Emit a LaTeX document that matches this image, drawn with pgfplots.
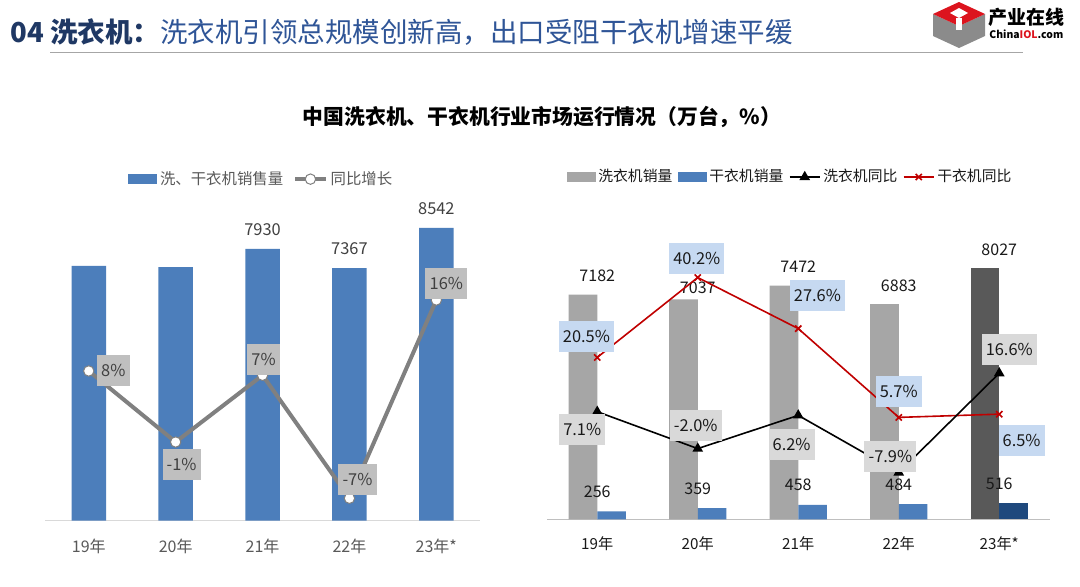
\documentclass[border=0pt]{standalone}
\usepackage{fontspec}
\setmainfont{Noto Sans CJK SC}
\usepackage{pgfplots}
\usepackage{pgfplotstable}
\pgfplotsset{compat=1.18}

\definecolor{navy}{RGB}{31,56,100}
\definecolor{titleblue}{RGB}{47,85,151}
\definecolor{barblue}{RGB}{76,126,187}
\definecolor{darkblue}{RGB}{31,73,125}
\definecolor{washgray}{RGB}{166,166,166}
\definecolor{washdark}{RGB}{89,89,89}
\definecolor{linegray}{RGB}{128,128,128}
\definecolor{boxgray}{RGB}{191,191,191}
\definecolor{boxlight}{RGB}{217,217,217}
\definecolor{boxblue}{RGB}{198,217,241}
\definecolor{txt}{RGB}{64,64,64}
\definecolor{ticktxt}{RGB}{89,89,89}
\definecolor{axisgray}{RGB}{217,217,217}
\definecolor{dryred}{RGB}{192,0,0}
\definecolor{logored}{RGB}{220,20,30}

% left chart: washer + dryer total, yoy (dx, dy = label offset in pt)
\pgfplotstableread{
x y lab dx dy
0 7.7 8 12.25 0
1 -0.56 -1 3 -11.25
2 7.2 7 0.5 8
3 -7.1 -7 4 9.25
4 15.95 16 5 8.35
}\totalyoy

% right chart
\pgfplotstableread{
x y dy
0 7182 9.5
1 7037 5.8
2 7472 9.5
3 6883 9.2
}\washbars
\pgfplotstableread{
x y dy
0 256 9.85
1 359 9.85
2 458 9.85
3 484 9.85
}\drybars
\pgfplotstableread{
x y lab dx dy
0 7.1 7.1 -7.5 -8.65
1 -2.0 -2.0 -1 11.75
2 6.2 6.2 -3.3 -14.5
3 -7.9 -7.9 -4.2 7.9
4 16.6 16.6 5 11.85
}\washyoy
\pgfplotstableread{
x y lab dx dy
0 20.5 20.5 -5.4 10.65
1 40.2 40.2 -0.5 9.5
2 27.6 27.6 9.6 16.65
3 5.7 5.7 0 13.15
4 6.5 6.5 11.2 -13.35
}\dryyoy

\pgfplotsset{
  base/.style={
    scale only axis, anchor=south west, clip=false,
    xmin=-0.5, xmax=4.5, ymin=0,
    axis x line*=bottom, axis y line=none,
    x axis line style={draw=axisgray, line width=0.75pt},
    xtick={0,...,4}, xticklabels={19年,20年,21年,22年,23年*},
    xtick style={draw=none}, major tick length=0pt,
  },
  rectlegend/.style={legend image code/.code={\fill[##1] (0pt,-2.5pt) rectangle (14.5pt,2.5pt);}},
  linelegend/.style={legend image code/.code={\draw[##1, mark repeat=2, mark phase=2]
    plot coordinates {(0pt,0pt) (7.6pt,0pt) (15.2pt,0pt)};}},
  barlbl/.style={
    nodes near coords, point meta=explicit symbolic,
    visualization depends on={\thisrow{dy}\as\ly},
    every node near coord/.append style={anchor=center, yshift=\ly pt,
      text=#1, font=\fontsize{8}{9}\selectfont, inner sep=0pt},
  },
  pctlbl/.style 2 args={
    draw=none, nodes near coords={\pgfplotspointmeta\%}, point meta=explicit symbolic,
    visualization depends on={\thisrow{dx}\as\lx},
    visualization depends on={\thisrow{dy}\as\ly},
    every node near coord/.append style={anchor=center, xshift=\lx pt, yshift=\ly pt,
      fill=#1, text=#2, inner xsep=2.1pt, inner ysep=0pt, minimum height=15.5pt,
      font=\fontsize{8.2}{9}\selectfont},
  },
}

\begin{document}
% coordinates are reference pixels: (x, 586 - y); axes placed in pt
\begin{tikzpicture}[x=0.5pt, y=0.5pt]
\useasboundingbox (0,0) rectangle (1080,586);
\fill[white] (0,0) rectangle (1080,586);

% page title
\node[anchor=west, inner sep=0pt, font=\fontsize{13.75}{15}\selectfont] at (10,586-32)
  {\textcolor{navy}{\bfseries 04 洗衣机：}\textcolor{titleblue}{洗衣机引领总规模创新高，出口受阻干衣机增速平缓}};
\draw[washgray, line width=0.5pt] (50,586-52) -- (1023,586-52);

% logo
\fill[washdark!70] (933,586-14) -- (959,586-26) -- (985,586-14) -- (985,586-36) -- (959,586-48) -- (933,586-36) -- cycle;
\fill[logored] (933,586-14) -- (959,586-2) -- (985,586-14) -- (959,586-26) -- cycle;
\fill[white] (950,586-13) -- (959,586-8) -- (968,586-13) -- (959,586-18) -- cycle;
\fill[white] (956,586-18) rectangle (962,586-30);
\node[anchor=west, inner sep=0pt, font=\fontsize{9.5}{10}\selectfont\bfseries] at (988,586-17) {产业在线};
\node[anchor=west, inner sep=0pt, font=\fontsize{5.2}{6}\selectfont\bfseries] at (989,586-34) {China\textcolor{logored}{IOL}.com};

% chart title
\node[font=\fontsize{10.4}{12}\selectfont\bfseries] at (542,586-117) {中国洗衣机、干衣机行业市场运行情况（万台，\%）};

% ---------------- left chart ----------------
\begin{axis}[base, at={(22.65pt,32.65pt)}, width=217.25pt, height=160.35pt, ymax=9358,
  xticklabel style={anchor=center, yshift=-13pt, text=ticktxt, font=\fontsize{8}{9}\selectfont},
  legend style={at={(0.4956,1.065)}, anchor=center, draw=none, fill=none,
    legend columns=-1, font=\fontsize{7.7}{9}\selectfont, text=ticktxt,
    nodes={inner sep=0.5pt},
    /tikz/every odd column/.append style={column sep=1pt},
    /tikz/every even column/.append style={column sep=4.5pt}},
]
\addplot[ybar, bar width=17.25pt, bar shift=0pt, fill=barblue, draw=none, rectlegend]
  coordinates {(0,7438) (1,7396)};
\addlegendentry{洗、干衣机销售量}
\addplot[ybar, bar width=17.25pt, bar shift=0pt, fill=barblue, draw=none, forget plot,
  nodes near coords, point meta=explicit symbolic,
  every node near coord/.append style={anchor=center, yshift=9.75pt, text=txt,
    font=\fontsize{8.2}{9}\selectfont, inner sep=0pt}]
  coordinates {(2,7930)[7930] (3,7367)[7367] (4,8542)[8542]};
\addlegendimage{linegray, line width=2pt, mark=*, mark size=2.6pt,
  mark options={fill=white, draw=linegray, line width=0.5pt}, linelegend}
\addlegendentry{同比增长}
\end{axis}
\begin{axis}[base, hide axis, at={(22.65pt,32.65pt)}, width=217.25pt, height=160.35pt,
  ymin=-9.71, ymax=27.58]
\addplot[linegray, line width=2pt, mark=*, mark size=2.6pt,
  mark options={fill=white, draw=linegray, line width=0.5pt}]
  table[x=x, y=y] {\totalyoy};
\addplot[pctlbl={boxgray}{txt}] table[x=x, y=y, meta=lab] {\totalyoy};
\end{axis}

% ---------------- right chart ----------------
\begin{axis}[base, at={(273.5pt,33.35pt)}, width=251.25pt, height=159.65pt, ymax=10211,
  x axis line style={draw=boxgray, line width=0.75pt},
  xticklabel style={anchor=center, yshift=-12pt, text=black!90, font=\fontsize{7.6}{9}\selectfont},
  legend style={at={(0.4827,1.072)}, anchor=center, draw=none, fill=none,
    legend columns=-1, font=\fontsize{7.4}{9}\selectfont, text=black!90,
    nodes={inner sep=0.5pt},
    /tikz/every odd column/.append style={column sep=0.8pt},
    /tikz/every even column/.append style={column sep=2.2pt}},
]
\addplot[ybar, bar width=14.3pt, bar shift=-7.15pt, fill=washgray, draw=none, barlbl=black!90, rectlegend]
  table[x=x, y=y, meta=y] {\washbars};
\addlegendentry{洗衣机销量}
\addplot[ybar, bar width=14.3pt, bar shift=7.15pt, fill=barblue, draw=none, barlbl=black!90, rectlegend]
  table[x=x, y=y, meta=y] {\drybars};
\addlegendentry{干衣机销量}
\addplot[ybar, bar width=14.3pt, bar shift=-7.15pt, fill=washdark, draw=none, forget plot,
  nodes near coords, point meta=explicit symbolic,
  every node near coord/.append style={anchor=center, yshift=9.5pt, text=black!90,
    font=\fontsize{8}{9}\selectfont, inner sep=0pt}]
  coordinates {(4,8027)[8027]};
\addplot[ybar, bar width=14.3pt, bar shift=7.15pt, fill=darkblue, draw=none, forget plot,
  nodes near coords, point meta=explicit symbolic,
  every node near coord/.append style={anchor=center, yshift=9.85pt, text=black!90,
    font=\fontsize{8}{9}\selectfont, inner sep=0pt}]
  coordinates {(4,516)[516]};
\addlegendimage{black, line width=0.8pt, mark=triangle*, mark size=2.3pt, linelegend}
\addlegendentry{洗衣机同比}
\addlegendimage{dryred, line width=0.8pt, mark=x, mark size=2.2pt, linelegend}
\addlegendentry{干衣机同比}
\end{axis}
\begin{axis}[base, hide axis, at={(273.5pt,33.35pt)}, width=251.25pt, height=159.65pt,
  ymin=-19.44, ymax=59.32]
\addplot[dryred, line width=0.8pt, mark=x, mark size=2.2pt] table[x=x, y=y] {\dryyoy};
\addplot[black, line width=0.8pt, mark=triangle*, mark size=2.3pt] table[x=x, y=y] {\washyoy};
\addplot[pctlbl={boxlight}{black!90}] table[x=x, y=y, meta=lab] {\washyoy};
\addplot[pctlbl={boxblue}{black!90}] table[x=x, y=y, meta=lab] {\dryyoy};
\end{axis}
\end{tikzpicture}
\end{document}
